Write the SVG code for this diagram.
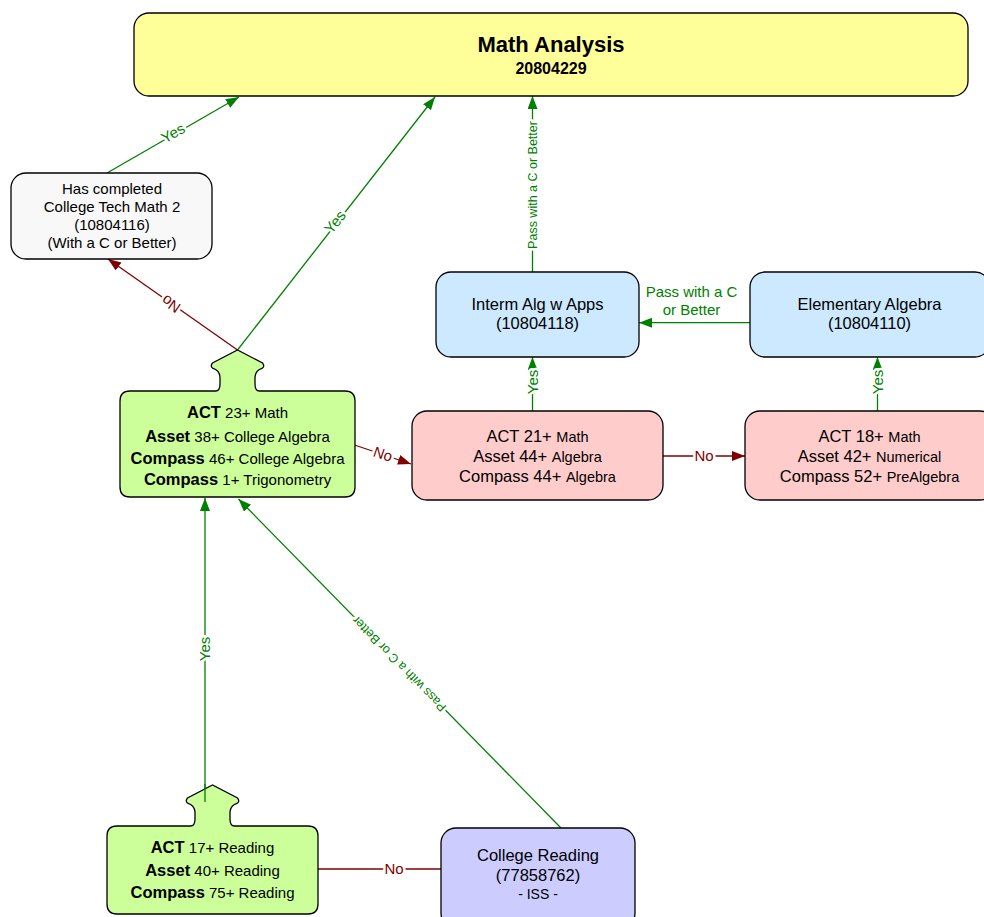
<svg xmlns="http://www.w3.org/2000/svg" width="984" height="917" viewBox="0 0 984 917">
<defs>
<style>
.box{stroke:#000;stroke-width:1.3}
.t{font-family:"Liberation Sans",Arial,sans-serif;fill:#000;text-anchor:middle}
.b{font-weight:bold}
.g{stroke:#008000;stroke-width:1.3;fill:none}
.r{stroke:#800000;stroke-width:1.3;fill:none}
.ga{marker-end:url(#ag)}
.ra{marker-end:url(#ar)}
.lbl{font-family:"Liberation Sans",Arial,sans-serif;font-size:15px;text-anchor:middle;stroke:#fff;stroke-width:5;paint-order:stroke;stroke-linejoin:round}
.lg{fill:#008000}
.lr{fill:#800000}
.sm{font-size:12.5px}
</style>
<marker id="ag" markerUnits="userSpaceOnUse" markerWidth="14" markerHeight="12" refX="13" refY="5" orient="auto"><path d="M0,0 L13,5 L0,10 Z" fill="#008000"/></marker>
<marker id="ar" markerUnits="userSpaceOnUse" markerWidth="14" markerHeight="12" refX="13" refY="5" orient="auto"><path d="M0,0 L13,5 L0,10 Z" fill="#800000"/></marker>
</defs>
<rect width="984" height="917" fill="#fff"/>

<g id="connectors">
<path class="g ga" d="M107,173 L239,97"/>
<path class="r ra" d="M237.5,350 L108,259"/>
<path class="g ga" d="M237.5,350 L435,97"/>
<path class="g ga" d="M532.5,272 L532.5,96"/>
<path class="g ga" d="M750,322.7 L639,322.7"/>
<path class="g ga" d="M532.5,411 L532.5,357"/>
<path class="g ga" d="M877.5,411 L877.5,357"/>
<path class="r ra" d="M663,456 L745,456"/>
<path class="r ra" d="M354.5,445 L411,464"/>
<path class="g ga" d="M205,802 L205,498"/>
<path class="g ga" d="M561,828 L238.5,499"/>
<path class="r" d="M318,869 L441,869"/>
<text class="lbl lg" transform="translate(173,133) rotate(-30)" dy="0.35em">Yes</text>
<text class="lbl lr" transform="translate(171,304) rotate(214.9)" dy="0.35em">No</text>
<text class="lbl lg" transform="translate(335,222) rotate(-51.8)" dy="0.35em">Yes</text>
<text class="lbl lg sm" transform="translate(532.5,185) rotate(-90)" dy="0.35em">Pass with a C or Better</text>
<text class="lbl lg" transform="translate(532.5,382) rotate(-90)" dy="0.35em">Yes</text>
<text class="lbl lg" transform="translate(877.5,382) rotate(-90)" dy="0.35em">Yes</text>
<text class="lbl lr" x="704" y="461">No</text>
<text class="lbl lr" transform="translate(383,454) rotate(18.7)" dy="0.35em">No</text>
<text class="lbl lg" transform="translate(205,649) rotate(-90)" dy="0.35em">Yes</text>
<text class="lbl lg sm" transform="translate(399,664) rotate(225.5)" dy="0.35em">Pass with a C or Better</text>
<text class="lbl lr" x="394" y="874">No</text>
<text class="lbl lg" style="stroke:none" x="691.5" y="297">Pass with a C</text>
<text class="lbl lg" style="stroke:none" x="691.5" y="315">or Better</text>
</g>

<g id="math-analysis">
<rect class="box" x="134" y="13" width="834" height="83" rx="15" fill="#FFFF99"/>
<text class="t b" x="551" y="52" font-size="22">Math Analysis</text>
<text class="t b" x="551" y="74" font-size="16">20804229</text>
</g>

<g id="tech-math">
<rect class="box" x="11" y="173" width="201" height="86" rx="15" fill="#F8F8F8"/>
<text class="t" font-size="15"><tspan x="112" y="194">Has completed</tspan><tspan x="112" y="212">College Tech Math 2</tspan><tspan x="112" y="230">(10804116)</tspan><tspan x="112" y="248">(With a C or Better)</tspan></text>
</g>

<g id="interm-alg">
<rect class="box" x="436" y="272" width="203" height="85" rx="15" fill="#CCE9FF"/>
<text class="t" font-size="16.5"><tspan x="537.5" y="310">Interm Alg w Apps</tspan><tspan x="537.5" y="329">(10804118)</tspan></text>
</g>

<g id="elementary-alg">
<rect class="box" x="750" y="272" width="240" height="85" rx="15" fill="#CCE9FF"/>
<text class="t" font-size="16.5"><tspan x="869.5" y="310">Elementary Algebra</tspan><tspan x="869.5" y="329">(10804110)</tspan></text>
</g>

<g id="act23">
<path class="box" fill="#CCFF99" d="M130,391 L215.5,391 Q220,391 220,384 L220,377 Q219.5,370 212.5,368 Q210,366 212.5,363 L237.5,350 L262.5,363 Q265,366 262.5,368 Q255.5,370 255,377 L255,384 Q255,391 259.5,391 L345,391 Q355,391 355,401 L355,487 Q355,497 345,497 L130,497 Q120,497 120,487 L120,401 Q120,391 130,391 Z"/>
<text class="t" x="237.5" y="418"><tspan class="b" font-size="16.5">ACT</tspan><tspan font-size="15"> 23+ Math</tspan></text>
<text class="t" x="237.5" y="441.5"><tspan class="b" font-size="16.5">Asset</tspan><tspan font-size="15"> 38+ College Algebra</tspan></text>
<text class="t" x="237.5" y="463.5"><tspan class="b" font-size="16.5">Compass</tspan><tspan font-size="15"> 46+ College Algebra</tspan></text>
<text class="t" x="237.5" y="484.5"><tspan class="b" font-size="16.5">Compass</tspan><tspan font-size="15"> 1+ Trigonometry</tspan></text>
</g>

<g id="act21">
<rect class="box" x="412" y="411" width="251" height="89" rx="15" fill="#FFCCCC"/>
<text class="t" x="537.5" y="442"><tspan font-size="16.5">ACT 21+ </tspan><tspan font-size="14.5">Math</tspan></text>
<text class="t" x="537.5" y="462"><tspan font-size="16.5">Asset 44+ </tspan><tspan font-size="14.5">Algebra</tspan></text>
<text class="t" x="537.5" y="482"><tspan font-size="16.5">Compass 44+ </tspan><tspan font-size="14.5">Algebra</tspan></text>
</g>

<g id="act18">
<rect class="box" x="745" y="411" width="250" height="89" rx="15" fill="#FFCCCC"/>
<text class="t" x="869.5" y="442"><tspan font-size="16.5">ACT 18+ </tspan><tspan font-size="14.5">Math</tspan></text>
<text class="t" x="869.5" y="462"><tspan font-size="16.5">Asset 42+ </tspan><tspan font-size="14.5">Numerical</tspan></text>
<text class="t" x="869.5" y="482"><tspan font-size="16.5">Compass 52+ </tspan><tspan font-size="14.5">PreAlgebra</tspan></text>
</g>

<g id="act17">
<path class="box" fill="#CCFF99" d="M117,826 L190.5,826 Q195,826 195,819 L195,812 Q194.5,805 187.5,803 Q185,801 187.5,798 L212.5,785 L237.5,798 Q240,801 237.5,803 Q230.5,805 230,812 L230,819 Q230,826 234.5,826 L308,826 Q318,826 318,836 L318,904 Q318,914 308,914 L117,914 Q107,914 107,904 L107,836 Q107,826 117,826 Z"/>
<path class="g" d="M205,802 L205,784"/>
<text class="t" x="212.5" y="853"><tspan class="b" font-size="16.5">ACT</tspan><tspan font-size="15"> 17+ Reading</tspan></text>
<text class="t" x="212.5" y="876"><tspan class="b" font-size="16.5">Asset</tspan><tspan font-size="15"> 40+ Reading</tspan></text>
<text class="t" x="212.5" y="898"><tspan class="b" font-size="16.5">Compass</tspan><tspan font-size="15"> 75+ Reading</tspan></text>
</g>

<g id="college-reading">
<rect class="box" x="441" y="828" width="194" height="100" rx="15" fill="#CCCCFF"/>
<text class="t" font-size="16.5"><tspan x="538" y="861">College Reading</tspan><tspan x="538" y="881">(77858762)</tspan></text>
<text class="t" font-size="14" x="538" y="899">- ISS -</text>
</g>
</svg>
